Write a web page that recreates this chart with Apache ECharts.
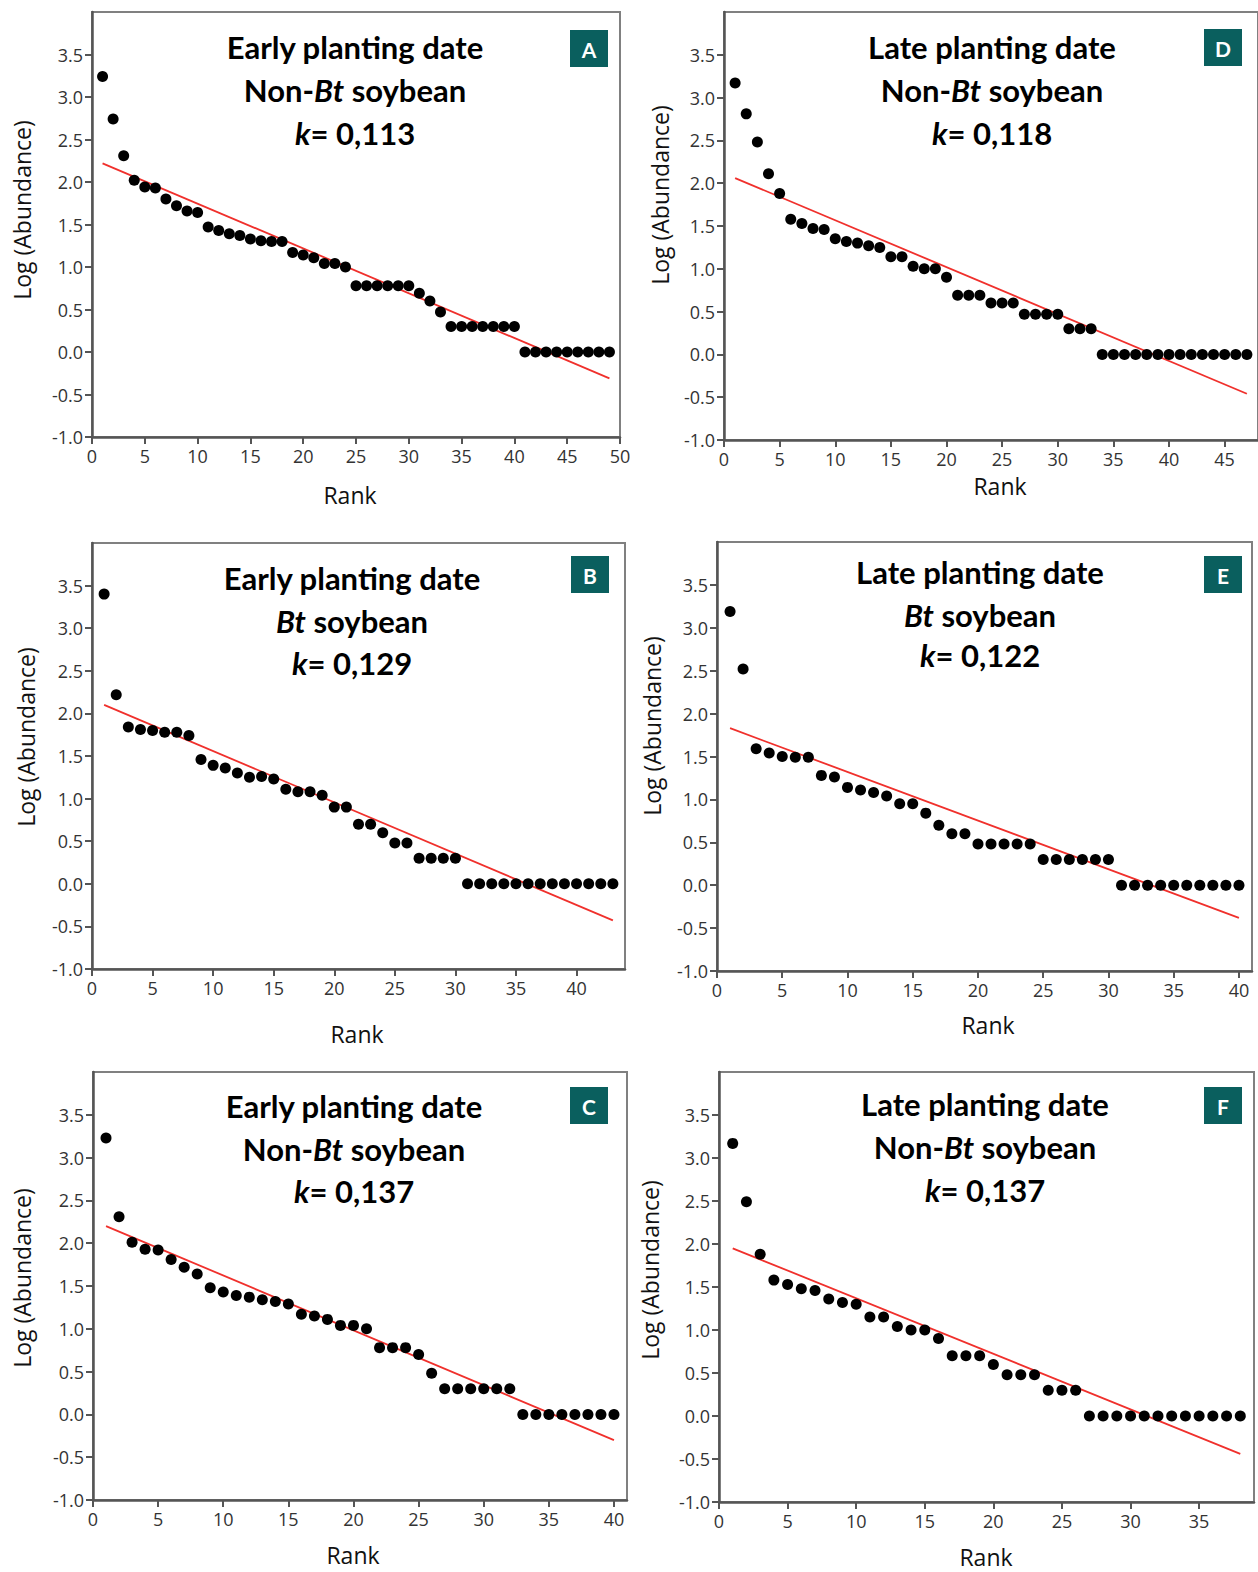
<!DOCTYPE html>
<html>
<head>
<meta charset="utf-8">
<script src="https://cdn.jsdelivr.net/npm/echarts@6/dist/echarts.min.js"></script>
<style>
html,body{margin:0;padding:0;background:#fff;}
#chart{width:1258px;height:1572px;}
</style>
</head>
<body>
<div id="chart"></div>
<script>
// ---------- data ----------
const valuesA = [3.24,2.74,2.31,2.02,1.94,1.93,1.80,1.72,1.66,1.64,1.47,1.43,1.39,1.37,1.33,1.31,1.30,1.30,1.17,1.14,1.11,1.04,1.04,1.00,0.78,0.78,0.78,0.78,0.78,0.78,0.69,0.60,0.47,0.30,0.30,0.30,0.30,0.30,0.30,0.30,0,0,0,0,0,0,0,0,0];
const valuesD = [3.17,2.81,2.48,2.11,1.88,1.58,1.53,1.47,1.46,1.35,1.32,1.30,1.27,1.25,1.14,1.14,1.03,1.00,1.00,0.90,0.69,0.69,0.69,0.60,0.60,0.60,0.47,0.47,0.47,0.47,0.30,0.30,0.30,0,0,0,0,0,0,0,0,0,0,0,0,0,0];
const valuesB = [3.40,2.22,1.84,1.81,1.80,1.78,1.78,1.74,1.46,1.39,1.36,1.30,1.25,1.26,1.23,1.11,1.08,1.08,1.04,0.90,0.90,0.70,0.70,0.60,0.48,0.48,0.30,0.30,0.30,0.30,0,0,0,0,0,0,0,0,0,0,0,0,0];
const valuesE = [3.19,2.52,1.59,1.54,1.50,1.49,1.49,1.28,1.26,1.14,1.11,1.08,1.04,0.95,0.95,0.84,0.70,0.60,0.60,0.48,0.48,0.48,0.48,0.48,0.30,0.30,0.30,0.30,0.30,0.30,0,0,0,0,0,0,0,0,0,0];
const valuesC = [3.23,2.31,2.01,1.93,1.92,1.81,1.72,1.64,1.48,1.43,1.39,1.37,1.34,1.32,1.29,1.17,1.15,1.11,1.04,1.04,1.00,0.78,0.78,0.78,0.70,0.48,0.30,0.30,0.30,0.30,0.30,0.30,0,0,0,0,0,0,0,0];
const valuesF = [3.17,2.49,1.88,1.58,1.53,1.48,1.46,1.36,1.32,1.30,1.15,1.15,1.04,1.00,1.00,0.90,0.70,0.70,0.70,0.60,0.48,0.48,0.48,0.30,0.30,0.30,0,0,0,0,0,0,0,0,0,0,0,0];

// fitted lines (end points)
const fitA = [[1,2.22],[49,-0.31]];
const fitD = [[1,2.06],[47,-0.46]];
const fitB = [[1,2.10],[43,-0.43]];
const fitE = [[1,1.83],[40,-0.38]];
const fitC = [[1,2.20],[40,-0.30]];
const fitF = [[1,1.95],[38,-0.44]];

const yTicks = [-1.0,-0.5,0.0,0.5,1.0,1.5,2.0,2.5,3.0,3.5];
const xTicksA = [0,5,10,15,20,25,30,35,40,45,50];
const xTicksD = [0,5,10,15,20,25,30,35,40,45];
const xTicksB = [0,5,10,15,20,25,30,35,40];
const xTicksE = [0,5,10,15,20,25,30,35,40];
const xTicksC = [0,5,10,15,20,25,30,35,40];
const xTicksF = [0,5,10,15,20,25,30,35];

const titleLine1 = ['Early planting date','Late planting date','Early planting date','Late planting date','Early planting date','Late planting date'];
const cropPrefix = ['Non-','Non-','','','Non-','Non-'];
const kValues = ['0,113','0,118','0,129','0,122','0,137','0,137'];
const letters = ['A','D','B','E','C','F'];

// ---------- layout ----------
const panels = [
  {vals: valuesA, fit: fitA, xt: xTicksA, xmax: 50, g:{left:92, top:12, width:528, height:425},
   tc:[355,47,90,133], badge:[570,30], ylab:[22,210], rank:[350,495]},
  {vals: valuesD, fit: fitD, xt: xTicksD, xmax: 48, g:{left:724, top:12, width:534, height:428},
   tc:[992,47,90,133], badge:[1204,29], ylab:[660,195], rank:[1000,486]},
  {vals: valuesB, fit: fitB, xt: xTicksB, xmax: 44, g:{left:92, top:543, width:533, height:426},
   tc:[352,578,621,663], badge:[571,556], ylab:[26,737], rank:[357,1034]},
  {vals: valuesE, fit: fitE, xt: xTicksE, xmax: 41, g:{left:717, top:542, width:535, height:429},
   tc:[980,572,615,655], badge:[1204,556], ylab:[652,726], rank:[988,1025]},
  {vals: valuesC, fit: fitC, xt: xTicksC, xmax: 41, g:{left:93, top:1072, width:534, height:428},
   tc:[354,1106,1149,1191], badge:[570,1087], ylab:[22,1278], rank:[353,1555]},
  {vals: valuesF, fit: fitF, xt: xTicksF, xmax: 39, g:{left:719, top:1072, width:535, height:430},
   tc:[985,1104,1147,1190], badge:[1204,1087], ylab:[650,1270], rank:[986,1557]}
];

const TICK_FONT = 'Open Sans';
const TITLE_FONT = 'Lato';
const axisCol = '#555';

const grids = [], xAxes = [], yAxes = [], series = [], graphics = [];

panels.forEach((p, i) => {
  grids.push(Object.assign({show:true, borderColor:'#808080', borderWidth:2, backgroundColor:'#fff', containLabel:false}, p.g));
  xAxes.push({
    type:'value', gridIndex:i, min:0, max:p.xmax, interval:5,
    axisLine:{show:true, onZero:false, lineStyle:{color:axisCol, width:2.5}},
    axisTick:{show:true, length:7, inside:false, lineStyle:{color:axisCol, width:2}, customValues:p.xt},
    axisLabel:{show:true, margin:10, fontSize:18, color:'#333', fontFamily:TICK_FONT, customValues:p.xt,
      formatter:(v)=> (p.xt.indexOf(v) >= 0 ? String(v) : '')},
    splitLine:{show:false}
  });
  yAxes.push({
    type:'value', gridIndex:i, min:-1, max:4, interval:0.5,
    axisLine:{show:true, onZero:false, lineStyle:{color:axisCol, width:2.5}},
    axisTick:{show:true, length:7, inside:false, lineStyle:{color:axisCol, width:2}, customValues:yTicks},
    axisLabel:{show:true, margin:9, fontSize:18, color:'#333', fontFamily:TICK_FONT, customValues:yTicks,
      formatter:(v)=> (v <= 3.5 + 1e-9 ? v.toFixed(1) : '')},
    splitLine:{show:false}
  });
  series.push({
    type:'scatter', xAxisIndex:i, yAxisIndex:i, symbol:'circle', symbolSize:11,
    itemStyle:{color:'#000', opacity:1}, silent:true, z:3,
    data: p.vals.map((v, j) => [j + 1, v])
  });
  series.push({
    type:'line', xAxisIndex:i, yAxisIndex:i, symbol:'none', silent:true, z:2,
    lineStyle:{color:'#f0302c', width:1.8}, data: p.fit
  });

  // titles
  const baseRich = {
    b:{fontFamily:TITLE_FONT, fontSize:31, fontWeight:'bold', fill:'#000', color:'#000'},
    bi:{fontFamily:TITLE_FONT, fontSize:31, fontWeight:'bold', fontStyle:'italic', fill:'#000', color:'#000'}
  };
  graphics.push({type:'text', x:p.tc[0], y:p.tc[1], z:10,
    style:{text:'{b|' + titleLine1[i] + '}', rich:baseRich, align:'center', verticalAlign:'middle', textAlign:'center', textVerticalAlign:'middle'}});
  const line2 = (cropPrefix[i] ? '{b|' + cropPrefix[i] + '}' : '') + '{bi|Bt}{b| soybean}';
  graphics.push({type:'text', x:p.tc[0], y:p.tc[2], z:10,
    style:{text:line2, rich:baseRich, align:'center', verticalAlign:'middle', textAlign:'center', textVerticalAlign:'middle'}});
  graphics.push({type:'text', x:p.tc[0], y:p.tc[3], z:10,
    style:{text:'{bi|k}{b|= ' + kValues[i] + '}', rich:baseRich, align:'center', verticalAlign:'middle', textAlign:'center', textVerticalAlign:'middle'}});

  // letter badge
  graphics.push({type:'rect', x:p.badge[0], y:p.badge[1], z:10, shape:{width:38, height:37}, style:{fill:'#0a5f5e'}});
  graphics.push({type:'text', x:p.badge[0] + 19, y:p.badge[1] + 19, z:11,
    style:{text:letters[i], fill:'#fff', font:'bold 21px Lato', align:'center', verticalAlign:'middle', textAlign:'center', textVerticalAlign:'middle'}});

  // axis titles
  graphics.push({type:'text', x:p.ylab[0], y:p.ylab[1], rotation:Math.PI/2, z:10,
    style:{text:'Log (Abundance)', fill:'#111', font:'23px "Open Sans"', align:'center', verticalAlign:'middle', textAlign:'center', textVerticalAlign:'middle'}});
  graphics.push({type:'text', x:p.rank[0], y:p.rank[1], z:10,
    style:{text:'Rank', fill:'#111', font:'23px "Open Sans"', align:'center', verticalAlign:'middle', textAlign:'center', textVerticalAlign:'middle'}});
});

const chart = echarts.init(document.getElementById('chart'), null, {renderer:'svg'});
chart.setOption({
  animation:false,
  backgroundColor:'#fff',
  grid:grids, xAxis:xAxes, yAxis:yAxes, series:series,
  graphic:{elements:graphics}
});
</script>
</body>
</html>
